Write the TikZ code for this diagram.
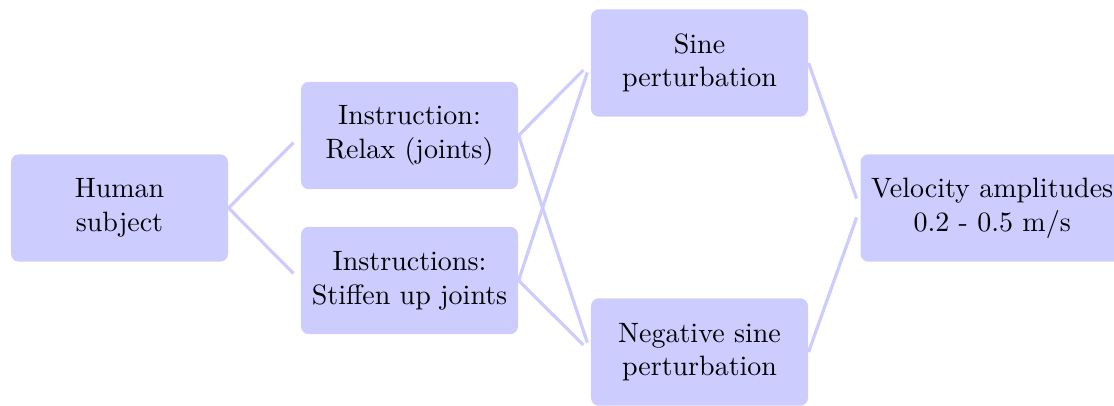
\documentclass[tikz,border=0pt]{standalone}
\begin{document}
\begin{tikzpicture}[x=0.375pt,y=-0.375pt,
  box/.style={fill=blue!20, rounded corners=3pt, align=center,
    font=\fontsize{10.5pt}{12.6pt}\selectfont,
    minimum width=81.4pt, minimum height=40.3pt, inner xsep=4pt},
  link/.style={draw=blue!20, line width=1.2pt, shorten >=3.75pt}]
\useasboundingbox (0,0) rectangle (1114,405);
% experiment tree, left to right
\node[box] (human) at (119.5,208) {Human\\subject};
\node[box] (relax) at (409.5,135.5) {Instruction:\\Relax (joints)};
\node[box] (stiff) at (409.5,280.5) {Instructions:\\Stiffen up joints};
\node[box] (sine) at (699.5,63) {Sine\\perturbation};
\node[box] (neg) at (699.5,352) {Negative sine\\perturbation};
\node[box, anchor=west] (vel) at (860,208) {Velocity amplitudes\\0.2 - 0.5 m/s};
% connectors
\draw[link] (human.east) -- (relax.west);
\draw[link] (human.east) -- (stiff.west);
\draw[link] (relax.east) -- (sine.west);
\draw[link] (relax.east) -- (neg.west);
\draw[link] (stiff.east) -- (sine.west);
\draw[link] (stiff.east) -- (neg.west);
\draw[link] (sine.east) -- (vel.west);
\draw[link] (neg.east) -- (vel.west);
\end{tikzpicture}
\end{document}
